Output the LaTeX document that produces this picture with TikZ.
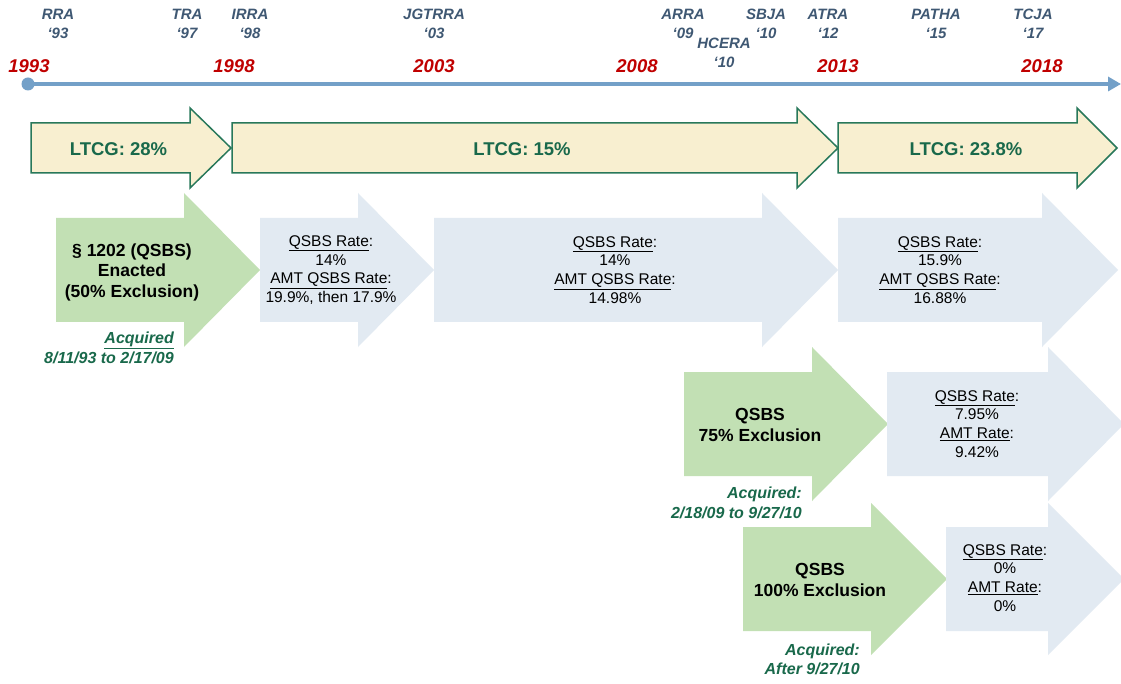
\documentclass[tikz,border=0pt]{standalone}
\usepackage{fontspec}
\setmainfont{Liberation Sans}
\usetikzlibrary{arrows.meta}
\definecolor{ltcgfill}{RGB}{248,239,208}
\definecolor{ltcgline}{RGB}{40,120,90}
\definecolor{gfill}{RGB}{194,224,180}
\definecolor{bfill}{RGB}{226,234,242}
\definecolor{tline}{RGB}{115,160,200}
\definecolor{actcol}{RGB}{63,88,115}
\definecolor{yearcol}{RGB}{192,0,0}
\definecolor{gtext}{RGB}{25,105,75}
\tikzset{
 act/.style={text=actcol,font=\fontsize{15}{19}\selectfont\bfseries\itshape,align=center,inner sep=0pt},
 yr/.style={text=yearcol,font=\fontsize{18.5}{18.5}\selectfont\bfseries\itshape,inner sep=0pt},
 ltcgshape/.style={fill=ltcgfill,draw=ltcgline,line width=1.5pt,line join=miter},
 greenshape/.style={fill=gfill},
 blueshape/.style={fill=bfill},
 ltcgtext/.style={text=gtext,font=\fontsize{18.5}{18.5}\selectfont\bfseries,inner sep=0pt},
 gtxt/.style={font=\fontsize{17.5}{20.5}\selectfont\bfseries,align=center,inner sep=0pt},
 btxt/.style={font=\fontsize{15.5}{18.7}\selectfont,align=center,inner sep=0pt},
 acq/.style={text=gtext,font=\fontsize{16}{19.5}\selectfont\bfseries\itshape,align=right,anchor=east,inner sep=0pt},
}
% style, left, head base, tip, top, bottom, head extend
\newcommand\qarrow[7]{\path[#1] (#2,#5) -- (#3,#5) -- (#3,#5-#7) -- (#4,{(#5+#6)/2}) -- (#3,#6+#7) -- (#3,#6) -- (#2,#6) -- cycle;}
\begin{document}
\begin{tikzpicture}[x=1pt,y=-1pt]
\clip (0,0) rectangle (1121,684);
\fill[white] (0,0) rectangle (1121,684);

% acts
\node[act] (rra)   at (58,23.5)  {RRA\\‘93};
\node[act] (tra)   at (187,23.5) {TRA\\‘97};
\node[act] (irra)  at (250,23.5) {IRRA\\‘98};
\node[act] (jgt)   at (434,23.5) {JGTRRA\\‘03};
\node[act] (arra)  at (683,23.5) {ARRA\\‘09};
\node[act] (hcera) at (724,53)   {HCERA\\‘10};
\node[act] (sbja)  at (766,23.5) {SBJA\\‘10};
\node[act] (atra)  at (828,23.5) {ATRA\\‘12};
\node[act] (patha) at (936,23.5) {PATHA\\‘15};
\node[act] (tcja)  at (1033,23.5) {TCJA\\‘17};

% years
\node[yr] (y93) at (29,66) {1993};
\node[yr] (y98) at (234,66) {1998};
\node[yr] (y03) at (434,66) {2003};
\node[yr] (y08) at (637,66) {2008};
\node[yr] (y13) at (838,66) {2013};
\node[yr] (y18) at (1042,66) {2018};

% timeline
\node[circle,fill=tline,minimum size=13pt,inner sep=0pt] (dot) at (28,84) {};
\coordinate (tend) at (1121,84);
\draw[tline,line width=4pt,-{Triangle[length=13pt,width=14pt]}] (dot.center) -- (tend);

% LTCG arrows
\qarrow{ltcgshape}{31}{190}{231}{123}{173}{15}
\qarrow{ltcgshape}{232}{797}{838}{123}{173}{15}
\qarrow{ltcgshape}{838}{1077}{1117}{123}{173}{15}
\node[ltcgtext] (l1) at (118.5,149) {LTCG: 28\%};
\node[ltcgtext] (l2) at (522,149) {LTCG: 15\%};
\node[ltcgtext] (l3) at (966,149) {LTCG: 23.8\%};

% row 2
\qarrow{greenshape}{56}{184}{260}{218}{322}{25}
\qarrow{blueshape}{260}{358}{434}{218}{322}{25}
\qarrow{blueshape}{434}{762}{838}{218}{322}{25}
\qarrow{blueshape}{838}{1042}{1118}{218}{322}{25}
\node[gtxt] (g1) at (132,272) {§ 1202 (QSBS)\\Enacted\\(50\% Exclusion)};
\node[btxt] (b1) at (331,270) {\underline{QSBS Rate}:\\14\%\\\underline{AMT QSBS Rate}:\\19.9\%, then 17.9\%};
\node[btxt] (b2) at (615,270) {\underline{QSBS Rate}:\\14\%\\\underline{AMT QSBS Rate}:\\14.98\%};
\node[btxt] (b3) at (940,270) {\underline{QSBS Rate}:\\15.9\%\\\underline{AMT QSBS Rate}:\\16.88\%};
\node[acq] (a1) at (174,348) {\underline{Acquired}\\8/11/93 to 2/17/09};

% row 3
\qarrow{greenshape}{684}{812}{888}{372}{476}{25}
\qarrow{blueshape}{887}{1048}{1124}{372}{476}{25}
\node[gtxt] (g2) at (760,425) {QSBS\\75\% Exclusion};
\node[btxt] (b4) at (977,424) {\underline{QSBS Rate}:\\7.95\%\\\underline{AMT Rate}:\\9.42\%};
\node[acq] (a2) at (802,503) {Acquired:\\2/18/09 to 9/27/10};

% row 4
\qarrow{greenshape}{743}{871}{947}{527}{631}{24}
\qarrow{blueshape}{946}{1048}{1124}{527}{631}{24}
\node[gtxt] (g3) at (820,580) {QSBS\\100\% Exclusion};
\node[btxt] (b5) at (1005,578) {\underline{QSBS Rate}:\\0\%\\\underline{AMT Rate}:\\0\%};
\node[acq] (a3) at (860,659.5) {Acquired:\\After 9/27/10};
\end{tikzpicture}
\end{document}
